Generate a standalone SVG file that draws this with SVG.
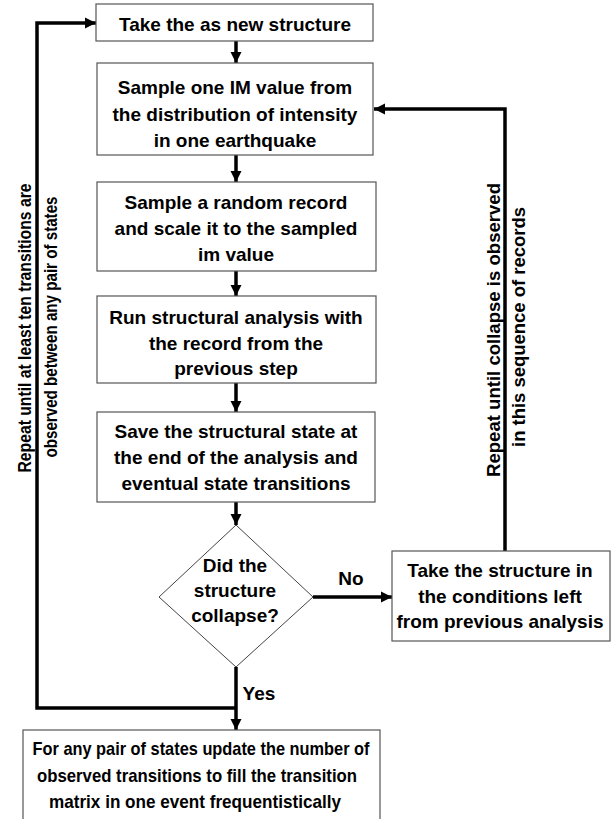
<svg xmlns="http://www.w3.org/2000/svg" width="611" height="819" viewBox="0 0 611 819">
<style>
.box{fill:#fff;stroke:#555;stroke-width:1.2}
.t{font-family:"Liberation Sans",Arial,sans-serif;font-weight:bold;font-size:19px;fill:#000;text-anchor:middle}
.c{fill:none;stroke:#000;stroke-width:3.5}
</style>
<defs>
<marker id="ah" markerUnits="userSpaceOnUse" markerWidth="12" markerHeight="12" refX="11" refY="6" orient="auto">
<path d="M0,0.5 L11,6 L0,11.5 Z" fill="#000"/>
</marker>
</defs>
<rect width="611" height="819" fill="#fff"/>
<g id="connectors">
<line class="c" x1="236" y1="41" x2="236" y2="63" marker-end="url(#ah)"/>
<line class="c" x1="236" y1="155" x2="236" y2="182" marker-end="url(#ah)"/>
<line class="c" x1="236" y1="271" x2="236" y2="296" marker-end="url(#ah)"/>
<line class="c" x1="236" y1="383" x2="236" y2="412" marker-end="url(#ah)"/>
<line class="c" x1="236" y1="502" x2="236" y2="525" marker-end="url(#ah)"/>
<line class="c" x1="313" y1="597" x2="392" y2="597" marker-end="url(#ah)"/>
<polyline class="c" points="505,551 505,109 374,109" marker-end="url(#ah)"/>
<line class="c" x1="236" y1="667" x2="236" y2="730" marker-end="url(#ah)"/>
<polyline class="c" points="236,708 37,708 37,23 96,23" marker-end="url(#ah)"/>
<text class="t" x="351" y="585">No</text>
<text class="t" x="259" y="700">Yes</text>
<text class="t" transform="translate(31,328) rotate(-90)" textLength="289" lengthAdjust="spacingAndGlyphs">Repeat until at least ten transitions are</text>
<text class="t" transform="translate(57,327) rotate(-90)" textLength="261" lengthAdjust="spacingAndGlyphs">observed between any pair of states</text>
<text class="t" transform="translate(500,330) rotate(-90)" textLength="294" lengthAdjust="spacingAndGlyphs">Repeat until collapse is observed</text>
<text class="t" transform="translate(525,327) rotate(-90)" textLength="240" lengthAdjust="spacingAndGlyphs">in this sequence of records</text>
</g>
<g id="n1">
<rect class="box" x="96" y="4" width="277" height="37"/>
<text class="t" x="235" y="31">Take the as new structure</text>
</g>
<g id="n2">
<rect class="box" x="97" y="63" width="276" height="92"/>
<text class="t" x="235" y="94">Sample one IM value from</text>
<text class="t" x="235" y="121">the distribution of intensity</text>
<text class="t" x="235" y="147">in one earthquake</text>
</g>
<g id="n3">
<rect class="box" x="97" y="182" width="279" height="89"/>
<text class="t" x="236" y="209">Sample a random record</text>
<text class="t" x="236" y="235">and scale it to the sampled</text>
<text class="t" x="236" y="261">im value</text>
</g>
<g id="n4">
<rect class="box" x="97" y="296" width="279" height="87"/>
<text class="t" x="236" y="324">Run structural analysis with</text>
<text class="t" x="236" y="350">the record from the</text>
<text class="t" x="236" y="375">previous step</text>
</g>
<g id="n5">
<rect class="box" x="97" y="412" width="278" height="90"/>
<text class="t" x="236" y="438">Save the structural state at</text>
<text class="t" x="236" y="464">the end of the analysis and</text>
<text class="t" x="236" y="490">eventual state transitions</text>
</g>
<g id="n6">
<polygon points="236,525 313,597 236,667 159,597" fill="#fff" stroke="#444" stroke-width="1"/>
<text class="t" x="235" y="572">Did the</text>
<text class="t" x="235" y="597">structure</text>
<text class="t" x="235" y="622">collapse?</text>
</g>
<g id="n7">
<rect class="box" x="392" y="551" width="218" height="90"/>
<text class="t" x="500" y="577">Take the structure in</text>
<text class="t" x="500" y="603">the conditions left</text>
<text class="t" x="500" y="628">from previous analysis</text>
</g>
<g id="n8">
<rect class="box" x="23" y="730" width="357" height="100"/>
<text class="t" x="201" y="755" textLength="337" lengthAdjust="spacingAndGlyphs">For any pair of states update the number of</text>
<text class="t" x="197" y="782" textLength="320" lengthAdjust="spacingAndGlyphs">observed transitions to fill the transition</text>
<text class="t" x="195" y="808" textLength="292" lengthAdjust="spacingAndGlyphs">matrix in one event frequentistically</text>
</g>
</svg>
